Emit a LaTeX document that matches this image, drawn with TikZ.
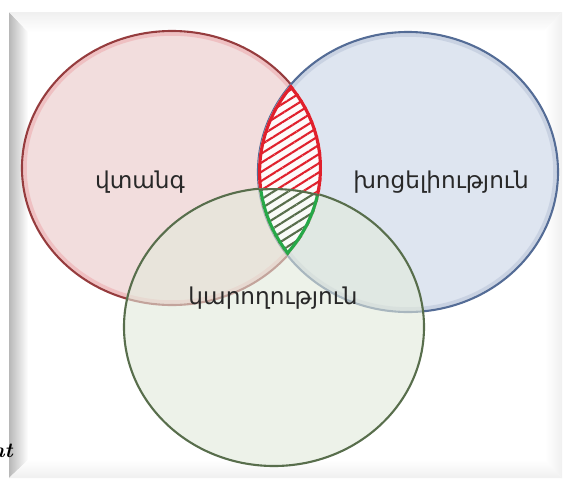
\documentclass[tikz,border=0pt]{standalone}
\usepackage{fontspec}
\newfontfamily\armfont[Script=Armenian]{DejaVu Sans}
\usepackage{xcolor}
\usepackage{tikz}
\usetikzlibrary{patterns.meta,calc,positioning}
\definecolor{hazardline}{RGB}{150,60,62}
\definecolor{hazardfill}{RGB}{242,221,221}
\definecolor{vulnline}{RGB}{84,108,150}
\definecolor{vulnfill}{RGB}{222,229,240}
\definecolor{capline}{RGB}{88,110,76}
\definecolor{capfill}{RGB}{226,234,219}
\definecolor{hatchred}{RGB}{224,32,44}
\definecolor{hatchgreen}{RGB}{38,168,72}
\definecolor{labelgray}{RGB}{40,40,40}

\begin{document}
\begin{tikzpicture}[x=0.02cm, y=-0.02cm, >=stealth]
    \useasboundingbox (0,0) rectangle (565,481);

    % Panel with bevelled edges
    \fill[white] (0,0) rectangle (565,481);
    \shade[left color=black!28, right color=white] (9,12) -- (28,32) -- (28,460) -- (9,478) -- cycle;
    \shade[top color=black!6, bottom color=white] (9,12) -- (562,12) -- (545,30) -- (28,32) -- cycle;
    \shade[top color=white, bottom color=black!6] (9,478) -- (28,460) -- (545,460) -- (562,478) -- cycle;
    \shade[left color=white, right color=black!6] (545,30) -- (562,12) -- (562,478) -- (545,460) -- cycle;

    % Centres of the three sets
    \coordinate (H) at (172,168);
    \coordinate (V) at (408,172);
    \coordinate (C) at (274,327);

    % Hazard and vulnerability
    \filldraw[fill=hazardfill, draw=hazardline, line width=1.2pt] (H) ellipse [x radius=150, y radius=137];
    \draw[hatchred, opacity=0.15, line width=2pt] (H) ellipse [x radius=147, y radius=134];
    \filldraw[fill=vulnfill, draw=vulnline, line width=1.2pt] (V) ellipse [x radius=150, y radius=140];
    \draw[vulnline, opacity=0.15, line width=2pt] (V) ellipse [x radius=147, y radius=137];

    % Capacity (see-through)
    \filldraw[fill=capfill, fill opacity=0.6, draw=capline, line width=1.2pt] (C) ellipse [x radius=150, y radius=139];

    % Hatched lens: hazard and vulnerability
    \begin{scope}
        \clip (H) ellipse [x radius=150, y radius=137];
        \clip (V) ellipse [x radius=150, y radius=140];
        \fill[white!85!hazardfill] (V) ellipse [x radius=150, y radius=140];
        \fill[pattern={Lines[angle=32, distance=4.4pt, line width=1.2pt]}, pattern color=hatchred] (V) ellipse [x radius=150, y radius=140];
        \draw[hatchred, line width=3.6pt] (H) ellipse [x radius=150, y radius=137];
        \draw[hatchred, line width=3.6pt] (V) ellipse [x radius=150, y radius=140];
        % ... and capacity
        \clip (C) ellipse [x radius=150, y radius=139];
        \fill[white!80!capfill] (C) ellipse [x radius=150, y radius=139];
        \fill[pattern={Lines[angle=32, distance=4.4pt, line width=1.2pt]}, pattern color=capline] (C) ellipse [x radius=150, y radius=139];
        \draw[hatchgreen, line width=3.6pt] (H) ellipse [x radius=150, y radius=137];
        \draw[hatchgreen, line width=3.6pt] (V) ellipse [x radius=150, y radius=140];
        \draw[capline, line width=2.4pt] (C) ellipse [x radius=150, y radius=139];
    \end{scope}

    % Labels
    \node[font=\armfont\fontsize{13.2}{15}\selectfont, text=labelgray] (hazard) at (140,182) {վտանգ};
    \node[font=\armfont\fontsize{13.2}{15}\selectfont, text=labelgray] (vuln) at (441,182) {խոցելիություն};
    \node[font=\armfont\fontsize{13.2}{15}\selectfont, text=labelgray] (capacity) at (273,298) {կարողություն};

    % Cut-off word at the left margin
    \node[font=\bfseries\itshape\fontsize{12}{14}\selectfont, anchor=east, inner sep=0pt] (cutword) at (13,451) {nt};
\end{tikzpicture}
\end{document}
